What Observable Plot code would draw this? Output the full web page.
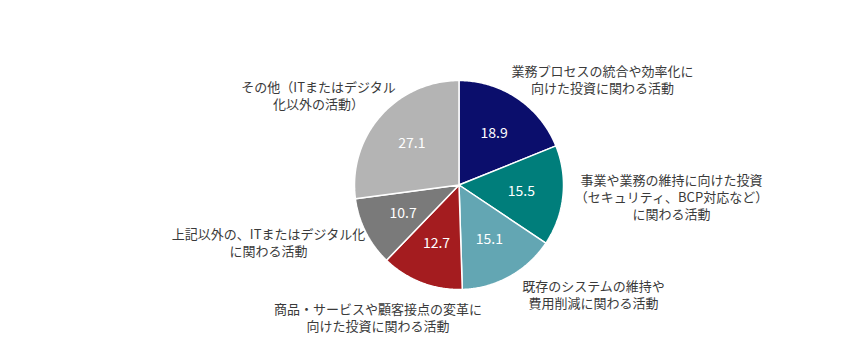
<!DOCTYPE html>
<html><head><meta charset="utf-8">
<script src="https://cdn.jsdelivr.net/npm/d3@7"></script>
<script src="https://cdn.jsdelivr.net/npm/@observablehq/plot@0.6"></script>
<style>
body{margin:0;background:#fff;}
svg{display:block;}
</style></head>
<body><div id="chart"></div>
<script>
const categories = [
  "業務プロセスの統合や効率化に\n向けた投資に関わる活動",
  "事業や業務の維持に向けた投資\n（セキュリティ、BCP対応など）\nに関わる活動",
  "既存のシステムの維持や\n費用削減に関わる活動",
  "商品・サービスや顧客接点の変革に\n向けた投資に関わる活動",
  "上記以外の、ITまたはデジタル化\nに関わる活動",
  "その他（ITまたはデジタル\n化以外の活動）"
];
const values = [18.9, 15.5, 15.1, 12.7, 10.7, 27.1];
const colors = ["#0b0e6c", "#007e7b", "#63a6b3", "#a41c1f", "#7a7a7a", "#b4b4b4"];

// layout (pixels)
const W = 866, H = 361, CX = 458.5, CY = 184.5, R = 104.5;
const labelPx = [[602, 79], [671, 196], [593, 294], [377.5, 317], [268, 242], [318, 95]];

const pie = d3.pie().sort(null).value(d => d.value);
const arcs = pie(categories.map((c, i) => ({cat: c, value: values[i], color: colors[i]})));

const poly = [];
arcs.forEach((a, i) => {
  const n = 90;
  poly.push({x: 0, y: 0, slice: i, color: a.data.color});
  for (let k = 0; k <= n; k++) {
    const t = a.startAngle + (a.endAngle - a.startAngle) * k / n;
    poly.push({x: Math.sin(t), y: Math.cos(t), slice: i, color: a.data.color});
  }
  poly.push({x: 0, y: 0, slice: i, color: a.data.color});
});
const valLabels = arcs.map(a => {
  const m = (a.startAngle + a.endAngle) / 2;
  return {x: 0.6 * Math.sin(m), y: 0.6 * Math.cos(m), text: a.data.value.toFixed(1)};
});
const catLabels = categories.map((c, i) => ({
  x: (labelPx[i][0] - CX) / R, y: (CY - labelPx[i][1]) / R, text: c
}));

const chart = Plot.plot({
  width: W, height: H,
  margin: 0,
  style: {fontFamily: "'Noto Sans CJK JP', 'Noto Sans', sans-serif", background: "#fff"},
  x: {domain: [-CX / R, (W - CX) / R], range: [0, W], axis: null},
  y: {domain: [-(H - CY) / R, CY / R], range: [H, 0], axis: null},
  marks: [
    Plot.line(poly, {x: "x", y: "y", z: "slice", fill: "color", stroke: "#fff", strokeWidth: 1.5, strokeLinejoin: "miter"}),
    Plot.text(valLabels, {x: "x", y: "y", text: "text", fill: "#fff", fontSize: 14}),
    Plot.text(catLabels, {x: "x", y: "y", text: "text", fill: "#3a3a3a", fontSize: 13, lineHeight: 1.3, textAnchor: "middle", lineAnchor: "middle"})
  ]
});
document.getElementById("chart").append(chart);
</script>
</body></html>
